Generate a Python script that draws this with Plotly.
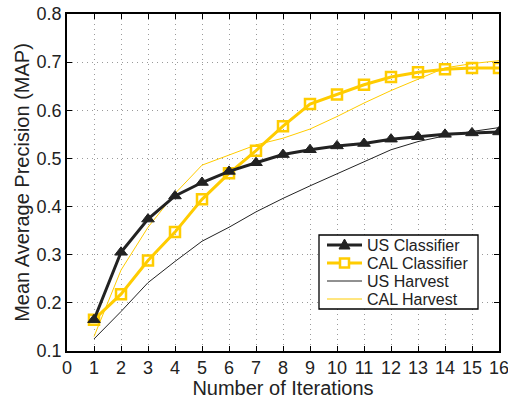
import plotly.graph_objects as go

iterations = list(range(1, 17))
us_classifier = [0.165, 0.305, 0.374, 0.422, 0.450, 0.473, 0.491, 0.508, 0.518, 0.526, 0.531, 0.540, 0.545, 0.550, 0.553, 0.555]
cal_classifier = [0.165, 0.218, 0.288, 0.347, 0.415, 0.469, 0.516, 0.567, 0.613, 0.633, 0.653, 0.669, 0.679, 0.685, 0.688, 0.688]
us_harvest = [0.125, 0.182, 0.242, 0.286, 0.328, 0.357, 0.389, 0.417, 0.443, 0.468, 0.493, 0.518, 0.535, 0.547, 0.556, 0.564]
cal_harvest = [0.130, 0.268, 0.357, 0.427, 0.486, 0.507, 0.528, 0.542, 0.561, 0.587, 0.615, 0.641, 0.665, 0.688, 0.697, 0.703]
series_names = ["US Classifier", "CAL Classifier", "US Harvest", "CAL Harvest"]

x_ticks = list(range(0, 17))
y_ticks = [0.1, 0.2, 0.3, 0.4, 0.5, 0.6, 0.7, 0.8]

BLACK = "#222222"
GOLD = "#FFCC00"

# figure geometry (pixels)
W, H = 508, 399
L, R, T, B = 67, 9, 14, 48
PW, PH = W - L - R, H - T - B

def pxx(px):
    return (px - L) / PW

def pxy(py):
    return (T + PH - py) / PH

fig = go.Figure()
fig.add_trace(go.Scatter(x=iterations, y=us_harvest, mode="lines", name=series_names[2],
                         line=dict(color=BLACK, width=1)))
fig.add_trace(go.Scatter(x=iterations, y=cal_harvest, mode="lines", name=series_names[3],
                         line=dict(color=GOLD, width=1)))
fig.add_trace(go.Scatter(x=iterations, y=cal_classifier, mode="lines+markers", name=series_names[1],
                         line=dict(color=GOLD, width=3),
                         marker=dict(symbol="square-open", size=10, color=GOLD, line=dict(width=2.5, color=GOLD))))
fig.add_trace(go.Scatter(x=iterations, y=us_classifier, mode="lines+markers", name=series_names[0],
                         line=dict(color=BLACK, width=3),
                         marker=dict(symbol="triangle-up", size=11, color=BLACK, line=dict(width=1, color=BLACK))))

# custom compact legend (MATLAB style)
box = dict(left=319, right=478, top=235, bottom=309)
rows = [245, 263, 281, 299]
sample_x0, sample_x1, text_x = 327, 362, 366
legend_styles = [
    dict(color=BLACK, width=3, marker="triangle"),
    dict(color=GOLD, width=3, marker="square"),
    dict(color=BLACK, width=1, marker=None),
    dict(color=GOLD, width=1, marker=None),
]
shapes = [dict(type="rect", xref="paper", yref="paper", layer="above",
               x0=pxx(box["left"]), x1=pxx(box["right"]), y0=pxy(box["bottom"]), y1=pxy(box["top"]),
               line=dict(color="black", width=1.3), fillcolor="white")]
annotations = []
for name, st, ry in zip(series_names, legend_styles, rows):
    shapes.append(dict(type="line", xref="paper", yref="paper", layer="above",
                       x0=pxx(sample_x0), x1=pxx(sample_x1), y0=pxy(ry), y1=pxy(ry),
                       line=dict(color=st["color"], width=st["width"])))
    cx = pxx((sample_x0 + sample_x1) / 2)
    if st["marker"] == "triangle":
        shapes.append(dict(type="path", xref="paper", yref="paper", layer="above",
                           xsizemode="pixel", ysizemode="pixel", xanchor=cx, yanchor=pxy(ry),
                           path="M -5.5 -4 L 5.5 -4 L 0 6 Z",
                           fillcolor=BLACK, line=dict(color=BLACK, width=1)))
    elif st["marker"] == "square":
        shapes.append(dict(type="rect", xref="paper", yref="paper", layer="above",
                           xsizemode="pixel", ysizemode="pixel", xanchor=cx, yanchor=pxy(ry),
                           x0=-4.5, x1=4.5, y0=-4.5, y1=4.5,
                           fillcolor="white", line=dict(color=GOLD, width=2.5)))
    annotations.append(dict(xref="paper", yref="paper", x=pxx(text_x), y=pxy(ry),
                            xanchor="left", yanchor="middle", showarrow=False, borderpad=0,
                            text=name, font=dict(size=16, color="#222")))

axis_common = dict(showline=True, linecolor="black", linewidth=1.5, mirror="ticks",
                   ticks="inside", ticklen=5, tickcolor="black", automargin=False,
                   ticklabeloverflow="allow",
                   showgrid=True, gridcolor="#9a9a9a", griddash="1px,4px", gridwidth=1,
                   zeroline=False, tickfont=dict(size=18, color="#222"))

fig.update_layout(
    width=W, height=H,
    margin=dict(l=L, r=R, t=T, b=B),
    paper_bgcolor="white", plot_bgcolor="white",
    font=dict(family="Liberation Sans, Arial, sans-serif", size=16, color="#222"),
    xaxis=dict(range=[0, 16], tickvals=x_ticks, ticktext=[str(v) for v in x_ticks], ticklabelstandoff=0,
               title=dict(text="Number of Iterations", standoff=0, font=dict(size=20)), **axis_common),
    yaxis=dict(range=[0.1, 0.8], tickvals=y_ticks, ticktext=[f"{v:.1f}" for v in y_ticks], ticklabelstandoff=0,
               title=dict(text="Mean Average Precision (MAP)", standoff=2, font=dict(size=20)), **axis_common),
    showlegend=False,
    shapes=shapes,
    annotations=annotations,
)

fig.write_html("out.html", config={"displayModeBar": False},
               post_script="document.body.style.margin='0';document.body.style.overflow='hidden';")
